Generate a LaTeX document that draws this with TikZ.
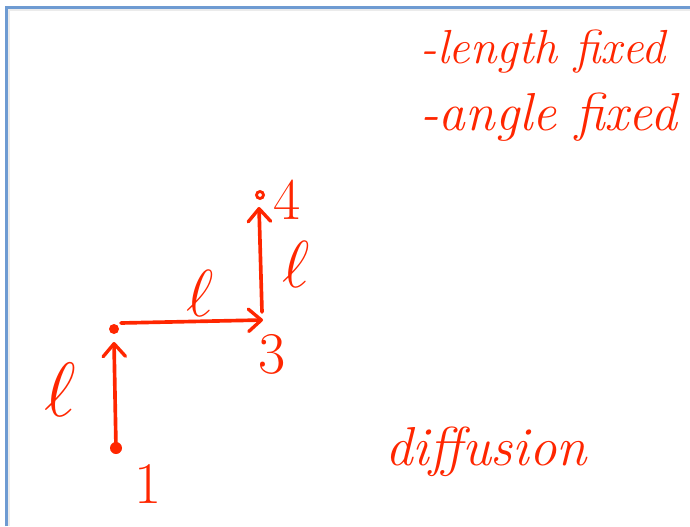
\documentclass[tikz,border=0pt]{standalone}
\usepackage{tikz}
\usepackage{graphicx}
\usetikzlibrary{arrows.meta}
\definecolor{ink}{RGB}{255,38,0}
\definecolor{frameblue}{RGB}{110,155,210}

\tikzset{
  stroke/.style={ink,line width=2.6pt,line cap=round,line join=round},
  vec/.style={stroke,-{Straight Barb[length=3.2mm,width=5.6mm,line width=2.4pt,round]}},
  hand/.style={ink,font=\itshape,inner sep=0pt,anchor=base west},
  lab/.style={ink,font=\fontsize{42}{44}\selectfont,inner sep=0pt}
}
\newcommand{\ellbig}[1][1.9]{\scalebox{#1}{$\ell$}}

\begin{document}
\begin{tikzpicture}[x=0.025cm,y=-0.025cm]
        \useasboundingbox (0,0) rectangle (690,526);
        % window frame
        \fill[black!8] (7,8) rectangle (690,11);
        \fill[black!8] (7,8) rectangle (10,526);
        \draw[frameblue,line width=1.6pt] (6.5,526) -- (6.5,7.5) -- (690,7.5);
        % chain points
        \coordinate (p1) at (116,448);
        \coordinate (p2) at (114,329);
        \coordinate (p3) at (263,320);
        \coordinate (p4) at (260,195);
        \fill[ink] (p1) circle (6);
        \fill[ink] (p2) circle (5);
        \draw[ink,line width=2pt] (p4) circle (3.5);
        \draw[vec] (p1) -- (114,342);
        \draw[vec] (121,323) -- (p3);
        \draw[vec] (262,312) -- (259,207);
        % labels
        \node[lab] (l1) at (60,390) {\ellbig[2.2]};
        \node[lab] (l2) at (200,293) {\ellbig};
        \node[lab] (l3) at (296,264) {\ellbig};
        \node[lab] (n1) at (148,484) {1};
        \node[lab] (n3) at (272,354) {3};
        \node[lab] (n4) at (287,200) {4};
        \node[hand,font=\fontsize{34}{36}\selectfont\itshape] (fix1) at (420,63) {-length fixed};
        \node[hand,font=\fontsize{38}{40}\selectfont\itshape] (fix2) at (420,130) {-angle fixed};
        \node[hand,font=\fontsize{39}{41}\selectfont\itshape] (diff) at (385,465) {diffusion};
      \end{tikzpicture}
\end{document}
